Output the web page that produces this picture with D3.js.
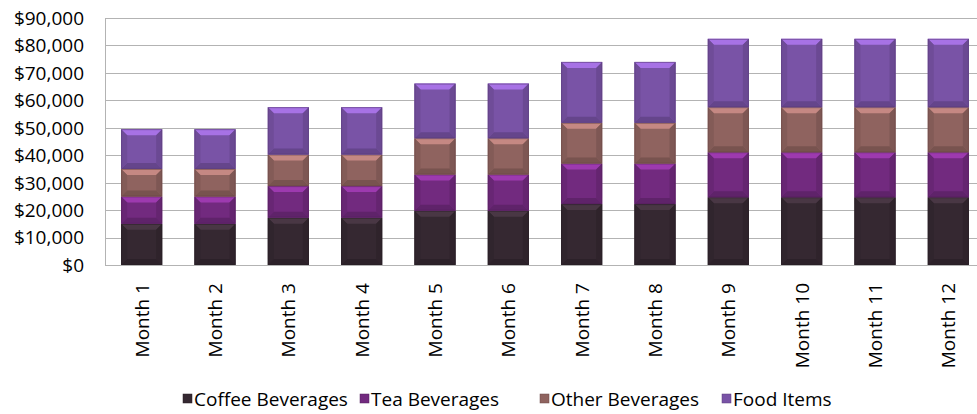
<!DOCTYPE html>
<html><head><meta charset="utf-8">
<script src="https://cdn.jsdelivr.net/npm/d3@7/dist/d3.min.js"></script>
<style>body{margin:0;background:#fff;} svg{display:block;font-family:"Open Sans","Noto Sans",sans-serif;}</style>
</head><body>
<svg id="c" width="977" height="414"></svg>
<script>
const months = ["Month 1","Month 2","Month 3","Month 4","Month 5","Month 6","Month 7","Month 8","Month 9","Month 10","Month 11","Month 12"];
const seriesNames = ["Coffee Beverages","Tea Beverages","Other Beverages","Food Items"];
const coffee = [15000,15000,17250,17250,19800,19800,22200,22200,24700,24700,24700,24700];
const tea    = [10000,10000,11500,11500,13200,13200,14800,14800,16400,16400,16400,16400];
const other  = [10000,10000,11500,11500,13200,13200,14800,14800,16400,16400,16400,16400];
const food   = [14500,14500,17250,17250,19900,19900,22200,22200,24900,24900,24900,24900];
const yTicks = [0,10000,20000,30000,40000,50000,60000,70000,80000,90000];
const colors = ["#352831","#722a7f","#8f635f","#7953a6"];

const svg = d3.select("#c");
const L = 105, R = 985, T = 18, B = 265;
const x = d3.scaleBand().domain(months).range([L, R]).paddingInner(0.44).paddingOuter(0.22);
const y = d3.scaleLinear().domain([0, 90000]).range([B, T]);

svg.append("g").selectAll("line").data(yTicks).join("line")
  .attr("x1", L).attr("x2", 977).attr("y1", d => Math.round(y(d)) + 0.5).attr("y2", d => Math.round(y(d)) + 0.5)
  .attr("stroke", "#b3b3b3").attr("stroke-width", 1);
svg.append("line").attr("x1", L + 0.5).attr("x2", L + 0.5).attr("y1", T).attr("y2", B + 1)
  .attr("stroke", "#b3b3b3");

const fmt = d3.format("$,");
svg.append("g").selectAll("text").data(yTicks).join("text")
  .attr("x", 84).attr("y", d => y(d)).attr("dy", "0.36em").attr("text-anchor", "end")
  .attr("font-size", 19).attr("fill", "#000").text(d => fmt(d));

const data = months.map((m, i) => ({month: m, "Coffee Beverages": coffee[i], "Tea Beverages": tea[i], "Other Beverages": other[i], "Food Items": food[i]}));
const stack = d3.stack().keys(seriesNames)(data);

const g = svg.append("g");
stack.forEach((layer, si) => {
  const base = d3.color(colors[si]);
  layer.forEach(d => {
    const x0 = x(d.data.month), x1 = x0 + x.bandwidth();
    const y0 = y(d[1]), y1 = y(d[0]);
    const b = Math.min(6, (y1 - y0) / 3);
    const bg = g.append("g");
    bg.append("rect").attr("x", x0).attr("y", y0).attr("width", x1 - x0).attr("height", y1 - y0)
      .attr("fill", base.formatHex());
    bg.append("polygon").attr("points", [[x0,y0],[x1,y0],[x1-b,y0+b],[x0+b,y0+b]].join(" "))
      .attr("fill", base.brighter(0.9).formatHex());
    bg.append("polygon").attr("points", [[x0,y1],[x1,y1],[x1-b,y1-b],[x0+b,y1-b]].join(" "))
      .attr("fill", base.darker(0.5).formatHex());
    bg.append("polygon").attr("points", [[x0,y0],[x0+b,y0+b],[x0+b,y1-b],[x0,y1]].join(" "))
      .attr("fill", base.darker(0.25).formatHex());
    bg.append("polygon").attr("points", [[x1,y0],[x1-b,y0+b],[x1-b,y1-b],[x1,y1]].join(" "))
      .attr("fill", base.darker(0.35).formatHex());
    bg.append("rect").attr("x", x0 + 0.5).attr("y", y0 + 0.5).attr("width", x1 - x0 - 1).attr("height", y1 - y0 - 1)
      .attr("fill", "none").attr("stroke", base.darker(0.8).formatHex()).attr("stroke-opacity", 0.6);
  });
});

svg.append("line").attr("x1", L).attr("x2", 977).attr("y1", B + 0.5).attr("y2", B + 0.5).attr("stroke", "#b3b3b3");

svg.append("g").selectAll("text").data(months).join("text")
  .attr("transform", d => `translate(${x(d) + x.bandwidth() / 2},${B + 18}) rotate(-90)`)
  .attr("dy", "0.36em").attr("text-anchor", "end").attr("font-size", 19).attr("fill", "#000").text(d => d);

const legX = [183, 360, 540, 722];
const leg = svg.append("g").selectAll("g").data(seriesNames).join("g")
  .attr("transform", (d, i) => `translate(${legX[i]},399)`);
leg.append("rect").attr("x", 0).attr("y", -5).attr("width", 9).attr("height", 9)
  .attr("fill", (d, i) => colors[i]).attr("stroke", (d, i) => d3.color(colors[i]).darker(0.8)).attr("stroke-width", 0.5);
leg.append("text").attr("x", 11).attr("y", 0).attr("dy", "0.36em").attr("font-size", 19).attr("fill", "#000").text(d => d);
</script>
</body></html>
